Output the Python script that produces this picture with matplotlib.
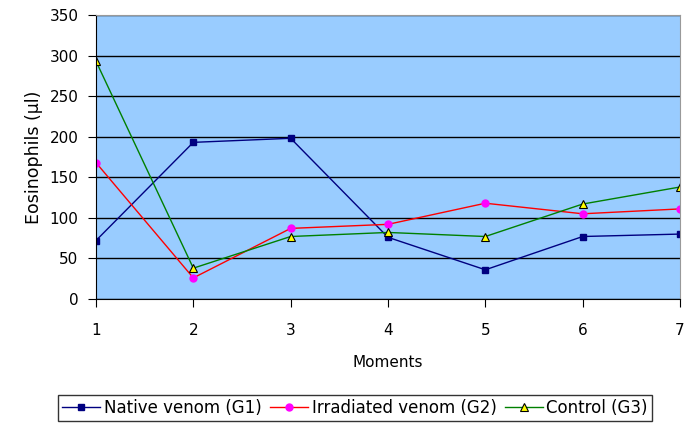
import matplotlib.pyplot as plt

moments = [1, 2, 3, 4, 5, 6, 7]
native_g1 = [72, 193, 198, 76, 36, 77, 80]
irradiated_g2 = [168, 26, 87, 92, 118, 105, 111]
control_g3 = [293, 38, 77, 82, 77, 117, 138]

fig = plt.figure(figsize=(6.92, 4.24), dpi=100)
ax = fig.add_axes([0.1387, 0.2948, 0.844, 0.67])
ax.set_facecolor('#99CCFF')

ax.plot(moments, native_g1, color='#000080', lw=1, marker='s', ms=5,
        mfc='#000080', mec='#000080', label='Native venom (G1)')
ax.plot(moments, irradiated_g2, color='#FF0000', lw=1, marker='o', ms=5,
        mfc='#FF00FF', mec='#FF00FF', label='Irradiated venom (G2)')
ax.plot(moments, control_g3, color='#008000', lw=1, marker='^', ms=6,
        mfc='#FFFF00', mec='#000000', mew=0.8, label='Control (G3)')

ax.set_xlim(1, 7)
ax.set_ylim(0, 350)
ax.set_yticks(range(0, 351, 50))
ax.set_xticks(moments)
ax.yaxis.grid(True, color='black', lw=1)
ax.set_axisbelow(True)
ax.tick_params(labelsize=11, length=5.5, direction='out')
ax.tick_params(axis='x', pad=12)
ax.tick_params(axis='y', pad=7)
for s in ['top', 'right']:
    ax.spines[s].set_color('#999999')
ax.set_xlabel('Moments', fontsize=11, labelpad=12)
ax.set_ylabel('Eosinophils (\u00b5l)', fontsize=12.5, labelpad=5)

leg = fig.legend(loc='center', bbox_to_anchor=(0.513, 0.038), ncol=3,
                 fontsize=12, frameon=True, fancybox=False, edgecolor='black',
                 handlelength=2.3, handletextpad=0.2, columnspacing=0.5,
                 borderpad=0.25)
leg.get_frame().set_linewidth(1)

fig.savefig('out.png', dpi=100)
